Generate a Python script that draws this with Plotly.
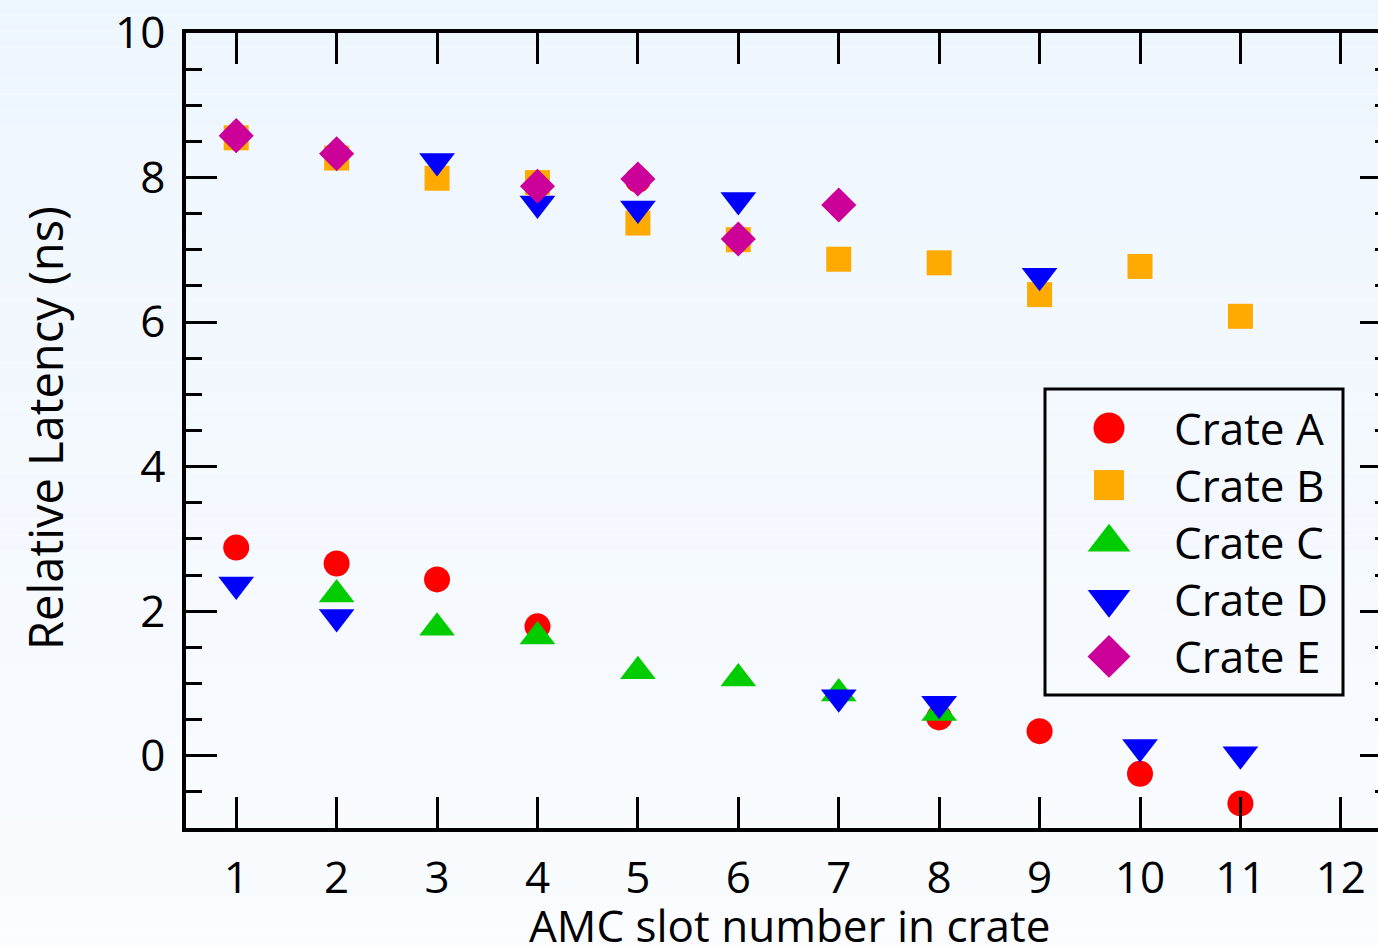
import plotly.graph_objects as go

# ---- data: relative latency (ns) per AMC slot, one series per crate ----
crate_a_slots = [1, 2, 3, 4, 5, 8, 9, 10, 11]
crate_a = [2.88, 2.66, 2.44, 1.79, 7.97, 0.53, 0.34, -0.25, -0.66]

crate_b_slots = [1, 2, 3, 4, 5, 6, 7, 8, 9, 10, 11]
crate_b = [8.55, 8.27, 7.99, 7.93, 7.37, 7.14, 6.87, 6.82, 6.38, 6.77, 6.08]

crate_c_slots = [2, 3, 4, 5, 6, 7, 8]
crate_c = [2.23, 1.77, 1.65, 1.17, 1.07, 0.86, 0.59]

crate_d_slots = [1, 2, 3, 4, 5, 6, 7, 8, 9, 10, 11]
crate_d = [2.37, 1.92, 8.23, 7.64, 7.57, 7.69, 0.81, 0.72, 6.64, 0.12, 0.02]

crate_e_slots = [1, 2, 4, 5, 6, 7]
crate_e = [8.58, 8.33, 7.88, 7.98, 7.15, 7.62]

series_names = ["Crate A", "Crate B", "Crate C", "Crate D", "Crate E"]
x_ticks = list(range(1, 13))
y_ticks = [0, 2, 4, 6, 8, 10]
x_title = "AMC slot number in crate"
y_title = "Relative Latency (ns)"

# ---- styling ----
FONT = "Open Sans"
FS = 44
W, H = 1378, 945
L, R, T, B = 186, 0, 33, 117           # plot area margins (px)
X_RANGE = [0.5, 12.37]                 # frame continues just past the right edge
Y_RANGE = [-1, 10]
styles = [
    dict(symbol="circle", color="#FF0000", size=26, key=31),
    dict(symbol="square", color="#FFAA00", size=25, key=30),
    dict(symbol="triangle-up", color="#00CC00", size=31, key=37),
    dict(symbol="triangle-down", color="#0000FF", size=31, key=37),
    dict(symbol="diamond", color="#CC0099", size=27, key=33),
]
series = [
    (crate_a_slots, crate_a), (crate_b_slots, crate_b), (crate_c_slots, crate_c),
    (crate_d_slots, crate_d), (crate_e_slots, crate_e),
]

plot_w = W - L - R
plot_h = H - T - B


def px_to_paper(px, py):
    """Convert page pixel position to paper coordinates."""
    return (px - L) / plot_w, (H - B - py) / plot_h


fig = go.Figure()
for name, (xs, ys), st in zip(series_names, series, styles):
    fig.add_trace(go.Scatter(
        x=xs, y=ys, mode="markers", name=name, showlegend=False,
        marker=dict(symbol=st["symbol"], color=st["color"], size=st["size"],
                    line=dict(width=0)),
        cliponaxis=False,
    ))

# right-hand tick stubs (the right frame edge itself lies just beyond the page)
fig.add_trace(go.Scatter(x=[None], y=[None], yaxis="y3", showlegend=False,
                         hoverinfo="skip"))

# ---- framed legend drawn on a pixel-unit overlay axis ----
leg_x0, leg_x1, leg_y0, leg_y1 = 1045, 1343, 389, 695
key_x, text_x = 1109, 1172
row_y0, row_step = 428, 57.1
for i, (name, st) in enumerate(zip(series_names, styles)):
    ry = row_y0 + i * row_step
    fig.add_trace(go.Scatter(
        x=[key_x], y=[ry], mode="markers", xaxis="x2", yaxis="y2",
        showlegend=False, hoverinfo="skip",
        marker=dict(symbol=st["symbol"], color=st["color"], size=st["key"],
                    line=dict(width=0)),
    ))
    fig.add_annotation(x=text_x, y=ry, xref="x2", yref="y2", text=name,
                       showarrow=False, xanchor="left", yanchor="middle",
                       font=dict(family=FONT, size=FS, color="black"))
fig.add_shape(type="rect", xref="x2", yref="y2", x0=leg_x0, x1=leg_x1,
              y0=leg_y0, y1=leg_y1, line=dict(color="black", width=3),
              fillcolor="rgba(0,0,0,0)", layer="above")

# ---- axis titles ----
tx, ty = px_to_paper(789, 925)
fig.add_annotation(x=tx, y=ty, xref="paper", yref="paper", text=x_title,
                   showarrow=False, xanchor="center", yanchor="middle",
                   font=dict(family=FONT, size=FS, color="black"))
tx, ty = px_to_paper(45, 428)
fig.add_annotation(x=tx, y=ty, xref="paper", yref="paper", text=y_title,
                   textangle=-90, showarrow=False, xanchor="center",
                   yanchor="middle",
                   font=dict(family=FONT, size=47, color="black"))

# ---- soft vertical background gradient (light blue to near white) ----
n_bands = 60
top_c = (238, 246, 254)
bot_c = (250, 252, 255)
y_top = (H - B) / plot_h
y_bot = (H - B - H) / plot_h
for k in range(n_bands):
    f = k / (n_bands - 1)
    c = tuple(round(top_c[j] + (bot_c[j] - top_c[j]) * f) for j in range(3))
    ya = y_top + (y_bot - y_top) * k / n_bands
    yb = y_top + (y_bot - y_top) * (k + 1) / n_bands
    fig.add_shape(type="rect", xref="paper", yref="paper",
                  x0=-0.2, x1=1.1, y0=yb, y1=ya, layer="below",
                  line=dict(width=0), fillcolor="rgb(%d,%d,%d)" % c)

tick_font = dict(family=FONT, size=FS, color="black")

fig.update_layout(
    width=W, height=H,
    margin=dict(l=L, r=R, t=T, b=B, pad=0),
    paper_bgcolor="white", plot_bgcolor="rgba(0,0,0,0)",
    showlegend=False,
    xaxis=dict(range=X_RANGE, tickmode="array", tickvals=x_ticks,
               ticktext=[str(v) for v in x_ticks], ticklabelstandoff=8,
               showline=True, linecolor="black", linewidth=3.5, mirror="ticks",
               ticks="inside", tickcolor="black", tickwidth=3, ticklen=31,
               showgrid=False, zeroline=False, tickfont=tick_font),
    yaxis=dict(range=Y_RANGE, tickmode="array", tickvals=y_ticks,
               ticktext=[str(v) for v in y_ticks], ticklabelstandoff=8,
               showline=True, linecolor="black", linewidth=3.5, mirror=False,
               ticks="inside", tickcolor="black", tickwidth=3, ticklen=31,
               minor=dict(dtick=0.5, tick0=0, ticks="inside", ticklen=16,
                          tickwidth=3, tickcolor="black"),
               showgrid=False, zeroline=False, tickfont=tick_font),
    yaxis3=dict(range=Y_RANGE, overlaying="y", side="right", anchor="x",
                tickmode="array", tickvals=y_ticks, showticklabels=False,
                showline=False, ticks="inside", tickcolor="black", tickwidth=3,
                ticklen=18,
                minor=dict(dtick=0.5, tick0=0, ticks="inside", ticklen=3,
                           tickwidth=3, tickcolor="black"),
                showgrid=False, zeroline=False, fixedrange=True),
    xaxis2=dict(range=[L, W - R], domain=[0, 1], anchor="y2", overlaying="x",
                visible=False, fixedrange=True),
    yaxis2=dict(range=[H - B, T], domain=[0, 1], anchor="x2", overlaying="y",
                visible=False, fixedrange=True),
)

fig.write_html("out.html")
